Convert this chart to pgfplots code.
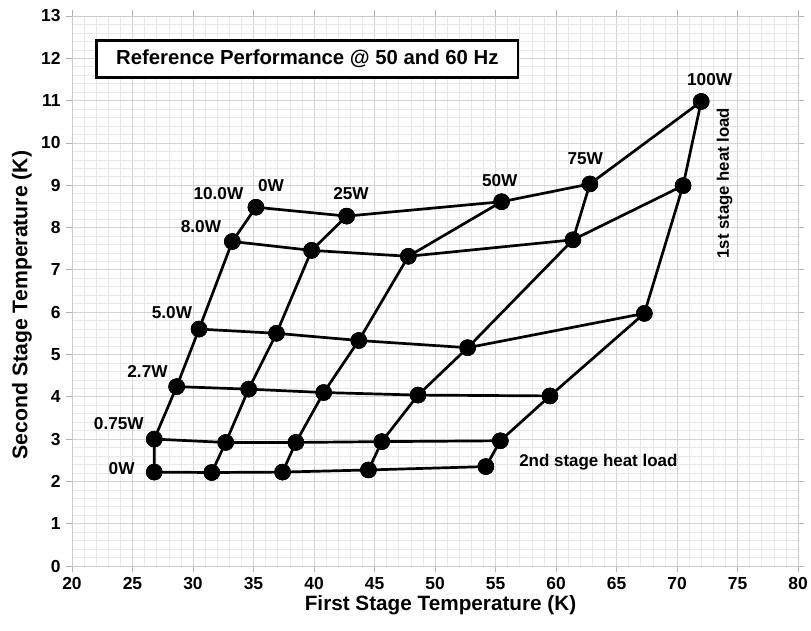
\documentclass[border=0pt]{standalone}
\usepackage{fontspec}
\setmainfont{Liberation Sans}
\usepackage{pgfplots}
\pgfplotsset{compat=1.18}
\pgfplotsset{ln/.style={black, solid, line width=2.7bp, mark=*, mark size=8bp, mark options={solid, fill=black, draw=black, line width=0.5bp}}}
\begin{document}
\begin{tikzpicture}
\begin{axis}[
  scale only axis, width=726bp, height=550bp,
  xmin=20, xmax=80, ymin=0, ymax=13,
  xtick={20,25,...,80}, ytick={0,1,...,13},
  minor x tick num=4, minor y tick num=4,
  grid=both,
  major grid style={draw=black!17, line width=0.8bp},
  minor grid style={draw=black!9, line width=0.6bp},
  axis line style={draw=black!20, line width=0.8bp},
  tick style={draw=black!30, line width=0.8bp},
  tick align=outside, major tick length=6bp, minor tick length=0pt,
  /pgf/number format/assume math mode=true,
  ticklabel style={font=\bfseries\fontsize{17.5}{19}\selectfont},
  yticklabel style={xshift=-2bp},
  xticklabel style={yshift=-2bp},
  xlabel={First Stage Temperature (K)},
  ylabel={Second Stage Temperature (K)},
  every axis x label/.style={at={(axis description cs:0.5076,-0.0709)},anchor=center,font=\bfseries\fontsize{20.8}{23}\selectfont},
  every axis y label/.style={at={(axis description cs:-0.0689,0.4746)},anchor=center,rotate=90,font=\bfseries\fontsize{21.3}{23}\selectfont},
  clip=false,
]
\coordinate (ll) at (rel axis cs:0,0);
\coordinate (ur) at (rel axis cs:1,1);
% rows: constant second stage heat load
\addplot[ln] coordinates {(26.8,2.22) (31.55,2.21) (37.4,2.22) (44.5,2.27) (54.2,2.35)};
\addplot[ln] coordinates {(26.8,3.00) (32.7,2.92) (38.5,2.92) (45.6,2.94) (55.4,2.96)};
\addplot[ln] coordinates {(28.65,4.24) (34.6,4.18) (40.8,4.10) (48.6,4.04) (59.5,4.02)};
\addplot[ln] coordinates {(30.5,5.60) (36.9,5.50) (43.7,5.33) (52.7,5.16) (67.3,5.97)};
\addplot[ln] coordinates {(33.25,7.67) (39.8,7.46) (47.8,7.32) (61.4,7.71) (70.5,8.99)};
\addplot[ln] coordinates {(35.2,8.48) (42.7,8.27) (55.5,8.61) (62.8,9.03) (72.0,10.98)};
% columns: constant first stage heat load
\addplot[ln] coordinates {(26.8,2.22) (26.8,3.00) (28.65,4.24) (30.5,5.60) (33.25,7.67) (35.2,8.48)};
\addplot[ln] coordinates {(31.55,2.21) (32.7,2.92) (34.6,4.18) (36.9,5.50) (39.8,7.46) (42.7,8.27)};
\addplot[ln] coordinates {(37.4,2.22) (38.5,2.92) (40.8,4.10) (43.7,5.33) (47.8,7.32) (55.5,8.61)};
\addplot[ln] coordinates {(44.5,2.27) (45.6,2.94) (48.6,4.04) (52.7,5.16) (61.4,7.71) (62.8,9.03)};
\addplot[ln] coordinates {(54.2,2.35) (55.4,2.96) (59.5,4.02) (67.3,5.97) (70.5,8.99) (72.0,10.98)};

\node[draw=black, line width=2.7bp, fill=white, minimum width=421bp, minimum height=37bp, inner sep=0pt,
  font=\bfseries\fontsize{20.4}{22}\selectfont] at (axis cs:39.45,11.98) {Reference Performance @ 50 and 60 Hz};

\begin{scope}[every node/.style={font=\bfseries\fontsize{17.3}{18}\selectfont, inner sep=0pt}]
\node at (axis cs:32.1,8.80) {10.0W};
\node at (axis cs:36.45,9.00) {0W};
\node at (axis cs:43.06,8.81) {25W};
\node at (axis cs:55.35,9.11) {50W};
\node at (axis cs:62.42,9.63) {75W};
\node at (axis cs:72.7,11.50) {100W};
\node at (axis cs:30.66,8.02) {8.0W};
\node at (axis cs:28.26,5.98) {5.0W};
\node at (axis cs:26.24,4.60) {2.7W};
\node at (axis cs:23.87,3.36) {0.75W};
\node at (axis cs:24.1,2.30) {0W};
\end{scope}
\node[font=\bfseries\fontsize{17}{18}\selectfont, inner sep=0pt] at (axis cs:63.5,2.46) {2nd stage heat load};
\node[font=\bfseries\fontsize{16.8}{18}\selectfont, inner sep=0pt, rotate=90] at (axis cs:73.94,9.05) {1st stage heat load};
\end{axis}
\pgfresetboundingbox
\path[use as bounding box] ([shift={(-72bp,-64bp)}]ll) rectangle ([shift={(13bp,16bp)}]ur);
\end{tikzpicture}
\end{document}
